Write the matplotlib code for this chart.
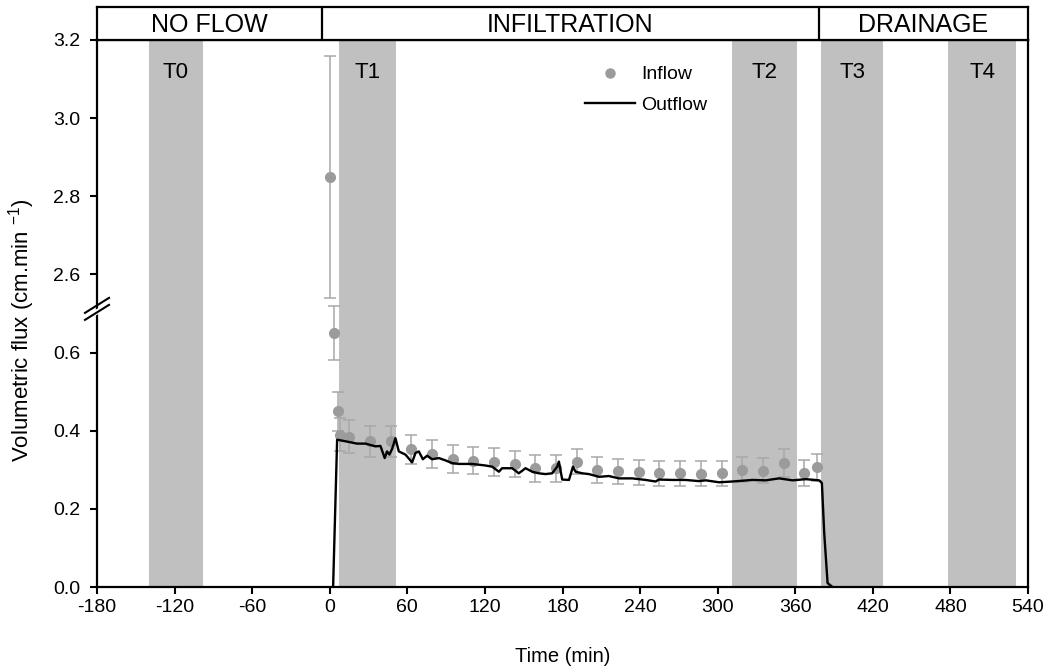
import matplotlib
matplotlib.use("Agg")
import matplotlib.pyplot as plt
from matplotlib.lines import Line2D
from matplotlib.patches import Polygon
import numpy as np

plt.rcParams["font.family"] = ["Liberation Sans", "DejaVu Sans"]
plt.rcParams["mathtext.fontset"] = "custom"
plt.rcParams["mathtext.rm"] = "Liberation Sans"
plt.rcParams["mathtext.default"] = "regular"
plt.rcParams["axes.unicode_minus"] = False

# --- data -----------------------------------------------------------------
inflow_t = [0, 3, 6, 8, 15, 31, 47, 63, 79, 95, 111, 127, 143, 159, 175, 191,
            207, 223, 239, 255, 271, 287, 303, 319, 335, 351, 367, 377]
inflow_q = [2.85, 0.65, 0.45, 0.39, 0.385, 0.373, 0.373, 0.353, 0.34, 0.327,
            0.323, 0.32, 0.315, 0.304, 0.304, 0.32, 0.30, 0.296, 0.294, 0.291,
            0.291, 0.29, 0.291, 0.30, 0.298, 0.317, 0.291, 0.306]
inflow_err = [0.31, 0.07, 0.05, 0.043, 0.043, 0.04, 0.04, 0.037, 0.036, 0.036,
              0.035, 0.035, 0.034, 0.034, 0.034, 0.032, 0.033, 0.032, 0.032,
              0.032, 0.032, 0.032, 0.032, 0.032, 0.033, 0.036, 0.033, 0.034]

outflow_t = [2.6, 5.7, 12.1, 21.1, 27.6, 35.3, 39.2, 42.5, 44.3, 46.1,
             48.2, 50.8, 53.4, 58.5, 63.7, 66.3, 68.9, 72.0, 75.3, 79.2,
             84.4, 89.5, 94.7, 99.8, 110.1, 120.4, 125.6, 130.8, 133.3, 141.1,
             146.2, 151.4, 156.6, 161.7, 166.9, 172.0, 175.9, 177.2, 179.8, 185.0,
             188.1, 190.1, 195.3, 200.4, 208.2, 215.9, 223.7, 234.0, 244.3, 252.0,
             254.6, 264.9, 275.2, 285.5, 290.8, 301.0, 311.4, 326.9, 337.2, 347.5,
             357.9, 368.2, 378.5, 380.6, 382.4, 385.0, 388.8]
outflow_q = [0.0, 0.377, 0.373, 0.367, 0.367, 0.360, 0.361, 0.330, 0.347, 0.339,
             0.353, 0.381, 0.347, 0.339, 0.319, 0.343, 0.347, 0.327, 0.336, 0.327,
             0.330, 0.324, 0.317, 0.315, 0.315, 0.311, 0.308, 0.295, 0.304, 0.304,
             0.291, 0.304, 0.295, 0.291, 0.289, 0.291, 0.308, 0.321, 0.275, 0.274,
             0.308, 0.295, 0.291, 0.289, 0.282, 0.284, 0.278, 0.278, 0.274, 0.270,
             0.275, 0.274, 0.274, 0.271, 0.273, 0.268, 0.270, 0.274, 0.273, 0.278,
             0.273, 0.276, 0.273, 0.266, 0.138, 0.010, 0.0]

band_names = ["T0", "T1", "T2", "T3", "T4"]
band_start = [-140, 7, 311, 380, 478]
band_end = [-98, 51, 361, 428, 531]

phase_names = ["NO FLOW", "INFILTRATION", "DRAINAGE"]
phase_edges = [-180, -6, 378, 540]

ytick_vals = [0.0, 0.2, 0.4, 0.6, 2.6, 2.8, 3.0, 3.2]
xticks = list(range(-180, 541, 60))

# broken axis: everything above the break is shifted down by GAP
GAP = 1.8


def yb(v):
    v = np.asarray(v, dtype=float)
    return np.where(v > 1.0, v - GAP, v)


BAND = "#c0c0c0"
PT = "#9b9b9b"
ERR = "#a8a8a8"

fig = plt.figure(figsize=(10.49, 6.70), dpi=100)
ax = fig.add_axes([97 / 1049, 1 - 587 / 670, 931 / 1049, 547 / 670])
hx = fig.add_axes([97 / 1049, 1 - 40 / 670, 931 / 1049, 33 / 670], sharex=ax)

for name, a, b in zip(band_names, band_start, band_end):
    ax.axvspan(a, b, color=BAND, lw=0, zorder=0)
    ax.text((a + b) / 2, 1.318, name, ha="center", va="center", fontsize=16)

ax.errorbar(inflow_t, yb(inflow_q), yerr=inflow_err, fmt="none", ecolor=ERR,
            elinewidth=1.1, capsize=4.5, capthick=1.1, zorder=3)
ax.plot(inflow_t, yb(inflow_q), "o", color=PT, markersize=7, zorder=4)
ax.plot(outflow_t, outflow_q, "-", color="black", lw=1.7, zorder=5)

ax.set_xlim(-180, 540)
ax.set_ylim(0, 1.4)
ax.set_xticks(xticks)
ax.set_yticks(yb(ytick_vals))
ax.set_yticklabels([f"{v:.1f}" for v in ytick_vals])
ax.tick_params(axis="both", direction="out", length=5, width=1.5, labelsize=14)
ax.tick_params(axis="y", pad=7)
ax.tick_params(axis="x", pad=4)
for s in ax.spines.values():
    s.set_linewidth(1.6)

ax.set_xlabel("Time (min)", fontsize=14.5)
ax.xaxis.set_label_coords(0.5, -0.11)
ax.set_ylabel("Volumetric flux (cm.min $^{-1}$)", fontsize=16)
ax.yaxis.set_label_coords(-0.064, 0.47)

# break marks on the left spine
yb0 = 0.708
p0 = ax.transData.transform((-180, yb0))
inv = ax.transAxes.inverted()


def px(dx, dy):
    return inv.transform((p0[0] + dx, p0[1] + dy))


gap_poly = Polygon([px(-12, -12), px(12, 3), px(12, 9), px(-12, -6)],
                   closed=True, transform=ax.transAxes, facecolor="white",
                   edgecolor="none", clip_on=False, zorder=10)
ax.add_patch(gap_poly)
for off in (-6.5, 0.5):
    a = px(-12, off - 3)
    b = px(12, off + 12)
    ax.add_line(Line2D([a[0], b[0]], [a[1], b[1]], transform=ax.transAxes,
                       color="black", lw=1.5, clip_on=False, zorder=11))

# legend
handles = [Line2D([0], [0], marker="o", color=PT, lw=0, markersize=6.5),
           Line2D([0], [0], color="black", lw=1.7)]
ax.legend(handles, ["Inflow", "Outflow"], loc="upper left",
          bbox_to_anchor=(0.505, 0.985), frameon=False, fontsize=14,
          handlelength=2.6, handletextpad=0.3, labelspacing=0.65)

# header band with phase names
hx.set_ylim(0, 1)
hx.set_yticks([])
hx.tick_params(axis="x", which="both", bottom=False, labelbottom=False)
for s in hx.spines.values():
    s.set_linewidth(1.6)
for e in phase_edges[1:-1]:
    hx.axvline(e, color="black", lw=1.6)
for name, a, b in zip(phase_names, phase_edges[:-1], phase_edges[1:]):
    hx.text((a + b) / 2, 0.45, name, ha="center", va="center", fontsize=18)

fig.savefig("out.png", dpi=100)
